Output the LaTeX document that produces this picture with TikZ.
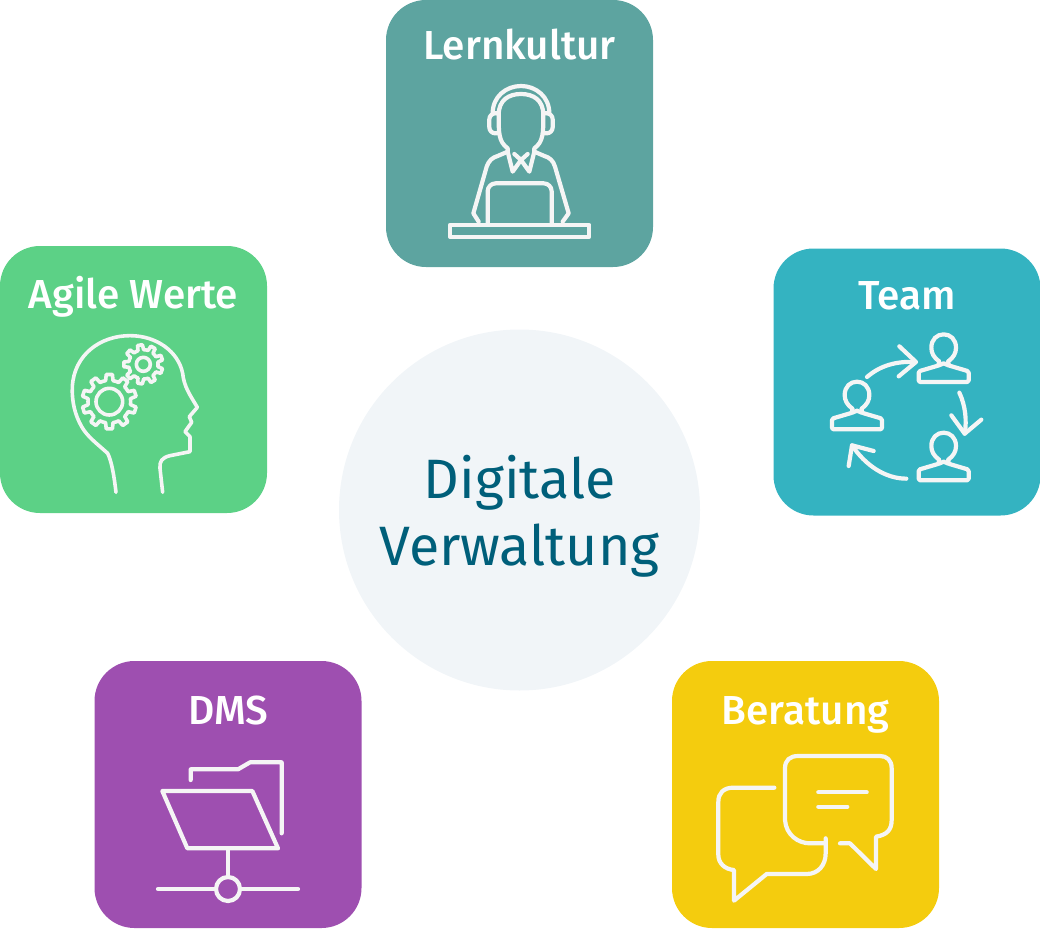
\documentclass[tikz,border=0pt]{standalone}
\usepackage{fontspec}
\setmainfont{Fira Sans}
\newfontfamily\titlefont{Fira Sans Medium}
\definecolor{lerncol}{HTML}{5DA4A0}
\definecolor{agilecol}{HTML}{5CD186}
\definecolor{teamcol}{HTML}{34B3C1}
\definecolor{dmscol}{HTML}{9E4FB0}
\definecolor{beratcol}{HTML}{F4CC0E}
\definecolor{hubcol}{HTML}{F1F5F8}
\definecolor{hubtext}{HTML}{005F7A}
\definecolor{iconcol}{HTML}{F5F5F5}
\tikzset{
  tile/.style={rectangle, rounded corners=40pt, minimum size=267pt, inner sep=0pt},
  tiletitle/.style={anchor=base, inner sep=0pt, text=white, font=\titlefont\fontsize{40.5}{40.5}\selectfont},
  hubtitle/.style={anchor=base, inner sep=0pt, text=hubtext, font=\fontsize{55.5}{55.5}\selectfont},
  iconline/.style={draw=iconcol, line width=4.2pt, line cap=round, line join=round},
}
\newcommand{\gearicon}[5]{%
  \begin{scope}[shift={(#1)}]
    \draw[iconline] (0,0) circle[radius=#4];
    \draw[iconline] (0:#3) \foreach \i in {1,...,#5} {
      -- ({(\i-1+.22)*360/#5}:#3) -- ({(\i-1+.32)*360/#5}:#2)
      -- ({(\i-1+.68)*360/#5}:#2) -- ({(\i-1+.78)*360/#5}:#3)
      -- ({\i*360/#5}:#3)
    } -- cycle;
  \end{scope}}
\newcommand{\personicon}[1]{%
  \begin{scope}[shift={(#1)}]
    \draw[iconline] (-14,38) .. controls (-30,26) and (-37,13) .. (-37,-3)
      .. controls (-37,-28) and (-20,-43) .. (0,-43)
      .. controls (20,-43) and (37,-28) .. (37,-3)
      .. controls (37,13) and (30,26) .. (14,38);
    \draw[iconline, rounded corners=1.5pt] (-14,38) -- (-14,50) -- (-75,68) -- (-75,100)
      -- (75,100) -- (75,68) -- (14,50) -- (14,38);
    \draw[iconline] (-14,50) -- (0,44) -- (14,50);
  \end{scope}}
\begin{document}
\begin{tikzpicture}[x=1pt, y=-1pt]
\useasboundingbox (0,0) rectangle (1040,928);

\node[circle, fill=hubcol, minimum size=361pt, inner sep=0pt] (hub) at (519.5,510) {};
\node[hubtitle] (hub1) at (519.5,498) {Digitale};
\node[hubtitle] (hub2) at (519.5,565) {Verwaltung};

\node[tile, fill=lerncol] (lern) at (519.5,133.5) {};
\node[tile, fill=agilecol] (agile) at (133.5,379.5) {};
\node[tile, fill=teamcol] (team) at (907,382) {};
\node[tile, fill=dmscol] (dms) at (228,794.5) {};
\node[tile, fill=beratcol] (berat) at (805.5,794.5) {};

\node[tiletitle] (lern1) at (519.5,60) {Lernkultur};
\node[tiletitle] (agile1) at (133.5,308) {Agile Werte};
\node[tiletitle] (team1) at (907,309) {Team};
\node[tiletitle] (dms1) at (228,724) {DMS};
\node[tiletitle] (berat1) at (805.5,724) {Beratung};

% Lernkultur
\begin{scope}[shift={(386,0)}, scale=1/3]
  \draw[iconline] (192,675) rectangle (610,710);
  \draw[iconline, rounded corners=8pt] (305,672) -- (305,550) -- (497,550) -- (497,672);
  \draw[iconline] (338,345) .. controls (338,300) and (368,282) .. (405,282)
    .. controls (442,282) and (472,300) .. (472,345)
    .. controls (472,400) and (472,425) .. (445,445) -- (445,455);
  \draw[iconline] (338,345) .. controls (338,400) and (338,425) .. (365,445) -- (365,455);
  \draw[iconline] (320,340) .. controls (320,290) and (360,258) .. (405,258)
    .. controls (450,258) and (490,290) .. (490,340);
  \draw[iconline, rounded corners=6pt] (335,340) -- (310,340) -- (310,400) -- (335,400);
  \draw[iconline, rounded corners=6pt] (475,340) -- (500,340) -- (500,400) -- (475,400);
  \draw[iconline] (278,665) -- (262,640) -- (302,500)
    .. controls (308,482) and (320,472) .. (335,468) -- (365,455)
    -- (380,515) -- (405,480) -- (430,515) -- (445,455) -- (475,468)
    .. controls (490,472) and (502,482) .. (507,500) -- (548,640) -- (530,665);
  \draw[iconline] (385,462) -- (405,480) -- (425,462);
\end{scope}

% Agile Werte
\begin{scope}[iconline/.append style={line width=3.6pt}, shift={(0,245)}, scale=1/3]
  \draw[iconline] (348,742) .. controls (342,690) and (335,650) .. (323,625)
    .. controls (290,595) and (262,575) .. (245,545)
    .. controls (225,510) and (215,470) .. (217,425)
    .. controls (222,330) and (300,272) .. (390,272)
    .. controls (470,272) and (535,320) .. (548,385)
    .. controls (552,425) and (570,450) .. (592,487)
    -- (568,515) -- (575,532) -- (555,560) -- (570,575) -- (570,620) -- (510,632)
    .. controls (485,638) and (478,650) .. (480,670) -- (488,742);
  \gearicon{328,470}{82}{64}{40}{10}
  \gearicon{430,358}{59}{44}{21}{9}
\end{scope}

% Team
\begin{scope}[shift={(772,247)}, scale=1/3]
  \personicon{515,305}
  \personicon{255,447}
  \personicon{515,600}
  \draw[iconline] (285,390) .. controls (325,355) and (375,342) .. (430,345);
  \draw[iconline] (382,298) -- (432,345) -- (380,388);
  \draw[iconline] (562,437) .. controls (580,475) and (585,520) .. (578,560);
  \draw[iconline] (538,505) -- (578,560) -- (628,518);
  \draw[iconline] (403,695) .. controls (340,695) and (280,655) .. (240,595);
  \draw[iconline] (230,657) -- (240,595) -- (305,612);
\end{scope}

% DMS
\begin{scope}[shift={(94,660)}, scale=1/3]
  \draw[iconline] (290,360) -- (290,328) -- (432,328) -- (468,307) -- (563,307) -- (563,520);
  \draw[iconline] (205,393) -- (475,393) -- (552,565) -- (280,565) -- cycle;
  \draw[iconline] (402,565) -- (402,651);
  \draw[iconline] (402,687) circle[radius=36];
  \draw[iconline] (192,687) -- (366,687);
  \draw[iconline] (438,687) -- (612,687);
\end{scope}

% Beratung
\begin{scope}[shift={(670,660)}, scale=1/3]
  \draw[iconline] (510,550) -- (540,550) -- (618,627) -- (618,530)
    .. controls (650,525) and (665,510) .. (665,480) -- (665,325)
    .. controls (665,300) and (650,288) .. (630,288) -- (385,288)
    .. controls (360,288) and (345,300) .. (345,325) -- (345,480)
    .. controls (348,525) and (385,550) .. (420,550) -- (465,550);
  \draw[iconline] (313,383) -- (190,383)
    .. controls (160,383) and (145,400) .. (145,425) -- (145,585)
    .. controls (145,610) and (165,628) .. (192,630) -- (192,722) -- (290,642) -- (410,642)
    .. controls (445,642) and (467,615) .. (467,580) -- (467,535);
  \draw[iconline] (445,397) -- (590,397);
  \draw[iconline] (445,440) -- (532,440);
\end{scope}
\end{tikzpicture}
\end{document}
